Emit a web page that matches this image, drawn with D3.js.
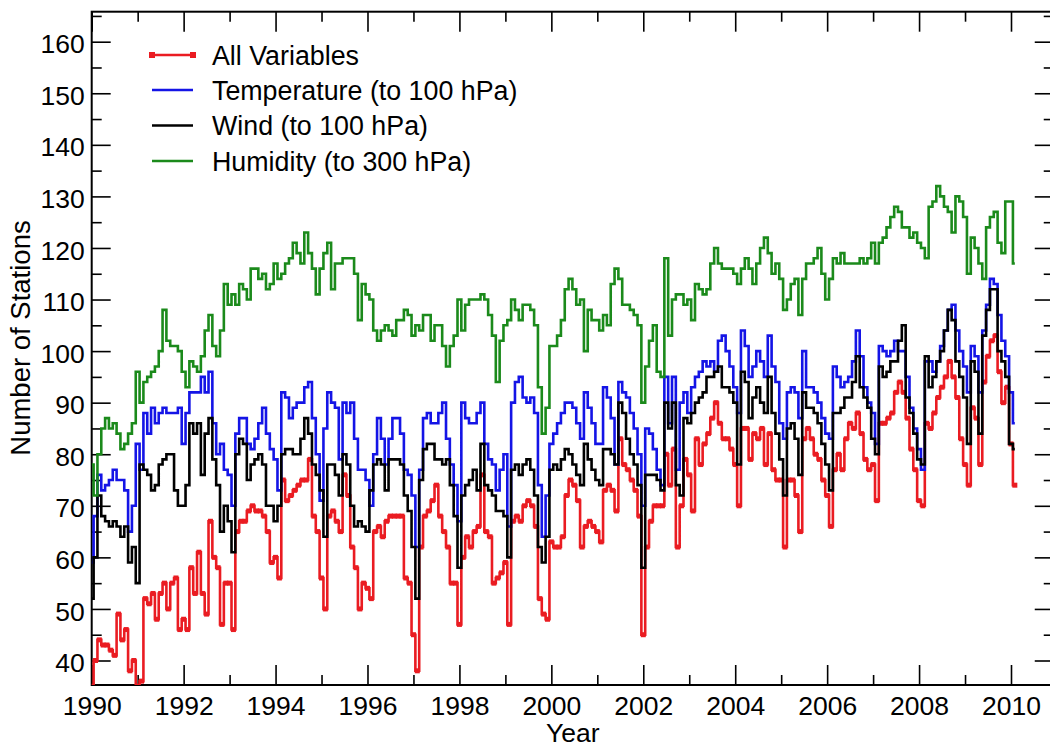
<!DOCTYPE html>
<html>
<head>
<meta charset="utf-8">
<script src="https://cdn.jsdelivr.net/npm/d3@7"></script>
<style>
html,body{margin:0;padding:0;background:#fff;}
svg{display:block;}
</style>
</head>
<body>
<svg id="chart" width="1050" height="749"></svg>
<script>
// ---------------- DATA (monthly, starting Jan 1990) ----------------
const startYear = 1990;
const seriesNames = ["All Variables", "Temperature (to 100 hPa)", "Wind (to 100 hPa)", "Humidity (to 300 hPa)"];
const seriesColors = ["#ea1c22", "#1414e6", "#000000", "#1b8a1b"];

const allVariables = [
  35,40,44,43,43,42,41,49,44,46,
  38,40,35,36,52,51,53,48,53,55,
  50,55,56,46,48,46,58,53,61,53,
  49,67,60,58,47,55,55,46,65,67,
  67,69,70,69,69,68,65,59,60,56,
  75,71,72,73,74,75,75,79,68,65,
  56,50,68,69,67,65,76,72,62,58,
  50,55,54,52,65,66,64,67,68,68,
  68,68,56,55,45,38,62,68,69,71,
  74,68,65,62,55,55,47,60,64,62,
  65,66,76,65,64,55,56,57,59,47,
  67,68,67,70,71,70,66,52,49,48,
  63,62,62,64,72,75,74,71,62,66,
  67,66,65,63,73,74,73,69,83,78,
  77,75,73,68,45,62,67,70,70,70,
  80,74,81,62,70,79,76,69,83,78,
  82,84,87,90,86,83,83,81,78,70,
  85,85,79,84,83,85,78,84,77,75,
  75,62,75,75,72,65,83,85,83,80,
  79,75,72,66,77,80,77,83,86,85,
  88,84,79,77,78,71,86,86,87,88,
  92,94,92,87,81,77,71,70,86,85,
  88,91,93,95,98,95,91,83,78,74,
  89,87,78,94,99,102,103,96,90,93,
  82,74
];

const temperature = [
  59,68,76,73,74,75,77,75,75,73,
  65,70,82,77,88,84,89,86,88,89,
  88,88,88,89,82,88,92,92,92,95,
  92,96,86,80,82,77,76,70,84,87,
  87,82,81,83,86,89,84,81,79,73,
  92,91,87,89,90,90,93,94,87,80,
  71,85,92,90,89,79,90,88,90,83,
  77,77,75,70,80,87,83,78,83,87,
  87,84,77,76,72,62,77,87,88,86,
  86,88,90,83,78,74,67,90,87,86,
  86,88,90,82,79,78,73,77,80,66,
  90,94,95,91,90,91,88,74,64,72,
  82,84,86,88,90,90,89,86,83,92,
  89,86,82,82,93,91,87,78,94,92,
  91,88,85,80,70,85,84,81,77,74,
  95,86,95,77,90,92,88,93,95,96,
  98,97,98,96,102,103,100,97,93,88,
  104,101,95,97,100,98,95,103,97,94,
  86,83,92,93,92,87,100,93,93,92,
  90,87,84,83,97,95,93,94,95,98,
  104,99,93,90,88,82,101,100,99,100,
  102,100,100,95,89,85,81,77,98,98,
  96,98,101,104,108,109,104,100,97,92,
  101,99,92,104,109,114,113,107,102,99,
  92,86
];

const wind = [
  52,60,72,68,67,66,67,66,64,66,
  59,62,55,78,77,76,73,74,78,79,
  80,80,73,70,70,74,86,84,86,76,
  84,87,79,74,65,70,67,61,80,83,
  82,75,78,79,80,78,70,70,67,70,
  80,81,81,80,80,83,87,84,78,76,
  73,64,78,78,76,72,80,78,70,66,
  67,66,65,73,78,79,78,73,79,79,
  79,78,72,69,62,52,75,81,82,82,
  79,79,78,79,74,68,58,72,74,75,
  77,73,82,74,73,72,69,69,68,60,
  77,78,76,78,79,77,72,62,59,64,
  77,78,77,79,81,80,78,76,74,82,
  79,77,75,74,81,81,80,78,90,88,
  83,80,78,74,58,76,76,76,75,73,
  90,85,90,74,72,87,86,88,90,91,
  92,95,95,96,97,93,93,92,90,78,
  96,94,87,91,93,90,88,95,88,84,
  79,72,85,86,83,76,92,89,89,88,
  86,82,78,73,88,88,89,91,91,94,
  99,93,91,89,83,80,97,95,96,98,
  98,102,105,91,88,84,79,78,99,93,
  95,98,100,104,108,106,98,95,91,82,
  98,96,84,103,108,112,112,100,98,95,
  82,81
];

const humidity = [
  78,72,80,85,87,85,86,84,81,82,
  84,86,96,90,94,95,96,97,100,108,
  102,101,101,100,96,93,98,97,96,99,
  104,107,101,99,104,113,109,111,109,113,
  112,110,116,116,114,115,112,113,117,114,
  115,117,118,121,119,117,123,119,116,111,
  116,119,121,112,117,117,118,118,118,115,
  106,113,111,110,104,102,104,105,104,103,
  106,106,108,107,103,105,104,107,107,102,
  105,105,101,97,101,103,110,104,109,110,
  110,110,111,110,107,103,94,102,105,106,
  110,108,106,109,109,108,105,93,84,89,
  101,101,103,106,112,114,112,109,110,100,
  108,106,106,104,107,105,113,116,114,109,
  109,108,107,105,90,97,102,105,96,95,
  118,103,110,111,111,109,110,106,113,112,
  111,112,117,120,117,116,116,116,115,113,
  116,118,116,113,117,120,122,119,115,117,
  114,108,110,113,114,107,114,117,117,118,
  120,115,110,114,118,117,119,117,117,117,
  117,118,117,118,121,117,121,122,124,126,
  128,127,124,124,122,123,121,120,118,128,
  129,132,130,128,127,123,130,129,126,115,
  122,120,117,114,124,126,127,121,119,129,
  129,117
];

const xMajorTicks = [1990,1992,1994,1996,1998,2000,2002,2004,2006,2008,2010];
const xTickLabels = ["1990","1992","1994","1996","1998","2000","2002","2004","2006","2008","2010"];
const xMinorTicks = [1991,1993,1995,1997,1999,2001,2003,2005,2007,2009];
const yMajorTicks = [40,50,60,70,80,90,100,110,120,130,140,150,160];
const yTickLabels = ["40","50","60","70","80","90","100","110","120","130","140","150","160"];
const yMinorTicks = [45,55,65,75,85,95,105,115,125,135,145,155,165];
const xTitle = "Year";
const yTitle = "Number of Stations";

// ---------------- LAYOUT ----------------
const FONT = "'Liberation Sans', Arial, Helvetica, sans-serif";
const svg = d3.select("#chart");
const x = d3.scaleLinear().domain([1990, 2010]).range([91.7, 1011]);
const y = d3.scaleLinear().domain([40, 160]).range([660.5, 41.7]);
const pLeft = x(1990), pRight = x(2010.93), pTop = 11.7, pBottom = 685;

svg.append("rect").attr("width", 1050).attr("height", 749).attr("fill", "#fff");

svg.append("defs").append("clipPath").attr("id", "plotClip")
  .append("rect").attr("x", pLeft).attr("y", pTop).attr("width", pRight - pLeft).attr("height", pBottom - pTop);

function styleAxis(g) {
  g.select(".domain").remove();
  g.selectAll(".tick line").attr("stroke", "#000").attr("stroke-width", 1.6);
  g.attr("font-family", FONT).attr("font-size", 26.5);
  g.selectAll("text").attr("fill", "#000");
}

// bottom axis
svg.append("g").attr("transform", `translate(0,${pBottom})`)
  .call(d3.axisBottom(x).tickValues(xMajorTicks).tickFormat((d, i) => xTickLabels[i])
    .tickSize(-20).tickSizeOuter(0).tickPadding(11))
  .call(styleAxis);
svg.append("g").attr("transform", `translate(0,${pBottom})`)
  .call(d3.axisBottom(x).tickValues(xMinorTicks).tickFormat("").tickSize(-10).tickSizeOuter(0))
  .call(styleAxis);
// top axis
svg.append("g").attr("transform", `translate(0,${pTop})`)
  .call(d3.axisTop(x).tickValues(xMajorTicks).tickFormat("").tickSize(-20).tickSizeOuter(0))
  .call(styleAxis);
svg.append("g").attr("transform", `translate(0,${pTop})`)
  .call(d3.axisTop(x).tickValues(xMinorTicks).tickFormat("").tickSize(-10).tickSizeOuter(0))
  .call(styleAxis);
// left axis
svg.append("g").attr("transform", `translate(${pLeft},0)`)
  .call(d3.axisLeft(y).tickValues(yMajorTicks).tickFormat((d, i) => yTickLabels[i])
    .tickSize(-19).tickSizeOuter(0).tickPadding(7))
  .call(styleAxis)
  .call(g => g.selectAll("text").attr("dy", "0.42em"));
svg.append("g").attr("transform", `translate(${pLeft},0)`)
  .call(d3.axisLeft(y).tickValues(yMinorTicks).tickFormat("").tickSize(-10).tickSizeOuter(0))
  .call(styleAxis);
// right axis
svg.append("g").attr("transform", `translate(${pRight},0)`)
  .call(d3.axisRight(y).tickValues(yMajorTicks).tickFormat("").tickSize(-19).tickSizeOuter(0))
  .call(styleAxis);
svg.append("g").attr("transform", `translate(${pRight},0)`)
  .call(d3.axisRight(y).tickValues(yMinorTicks).tickFormat("").tickSize(-10).tickSizeOuter(0))
  .call(styleAxis);

// frame
svg.append("rect").attr("x", pLeft).attr("y", pTop).attr("width", pRight - pLeft).attr("height", pBottom - pTop)
  .attr("fill", "none").attr("stroke", "#000").attr("stroke-width", 2);

// titles
svg.append("text").attr("x", (pLeft + pRight) / 2).attr("y", 742)
  .attr("text-anchor", "middle").attr("font-family", FONT).attr("font-size", 26.5).attr("fill", "#000")
  .text(xTitle);
svg.append("text").attr("transform", `translate(30,338) rotate(-90)`)
  .attr("text-anchor", "middle").attr("font-family", FONT).attr("font-size", 27.5).attr("fill", "#000")
  .text(yTitle);

// series
const dateOf = i => startYear + i / 12;
const line = d3.line().x((d, i) => x(dateOf(i))).y(d => y(d)).curve(d3.curveStep);
const plot = svg.append("g").attr("clip-path", "url(#plotClip)");
const drawOrder = [
  { data: allVariables, idx: 0 },
  { data: temperature, idx: 1 },
  { data: wind, idx: 2 },
  { data: humidity, idx: 3 }
];
drawOrder.forEach(s => {
  plot.append("path").datum(s.data)
    .attr("d", line).attr("fill", "none")
    .attr("stroke", seriesColors[s.idx]).attr("stroke-width", 2.6)
    .attr("stroke-linejoin", "miter");
  if (s.idx === 0) {
    plot.append("g").selectAll("rect").data(s.data).join("rect")
      .attr("x", (d, i) => x(dateOf(i)) - 2.5).attr("y", d => y(d) - 2.5)
      .attr("width", 5).attr("height", 5).attr("fill", seriesColors[0]);
  }
});

// legend
const legendY = [55, 90, 125.5, 161];
const lg = svg.append("g");
seriesNames.forEach((name, i) => {
  lg.append("line").attr("x1", 152).attr("x2", 193).attr("y1", legendY[i]).attr("y2", legendY[i])
    .attr("stroke", seriesColors[i]).attr("stroke-width", 2.6);
  if (i === 0) {
    [152, 193].forEach(px => lg.append("rect").attr("x", px - 3).attr("y", legendY[i] - 3)
      .attr("width", 6).attr("height", 6).attr("fill", seriesColors[0]));
  }
  lg.append("text").attr("x", 212).attr("y", legendY[i]).attr("dy", "0.36em")
    .attr("font-family", FONT).attr("font-size", 26.8).attr("fill", "#000").text(name);
});
</script>
</body>
</html>
